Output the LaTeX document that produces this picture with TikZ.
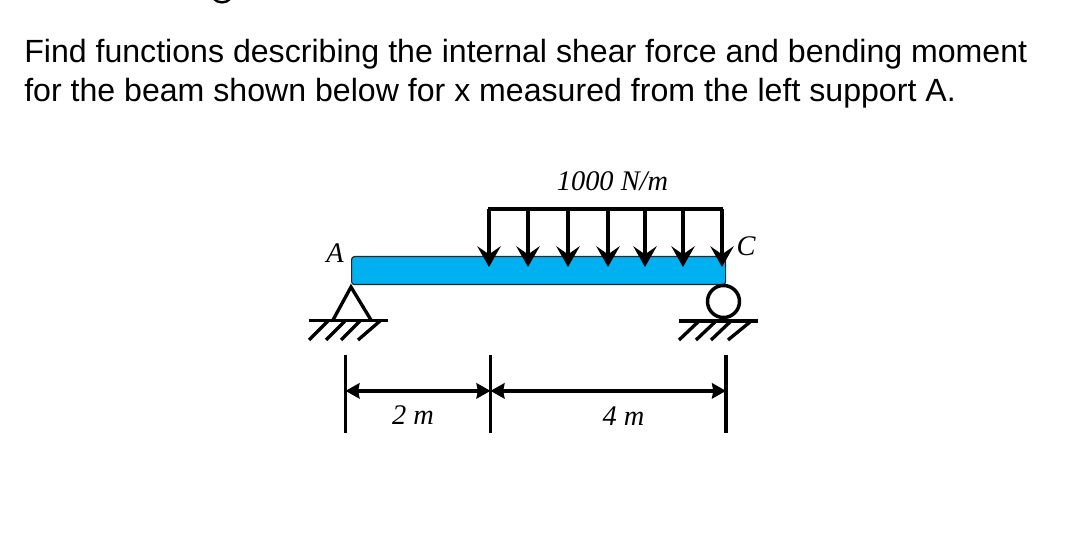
\documentclass[tikz,border=0pt]{standalone}
\usepackage{fontspec}
\setmainfont{Liberation Sans}
\newfontfamily\timesf{Liberation Serif}
\usetikzlibrary{arrows.meta,calc}
\definecolor{beamblue}{HTML}{00B0F0}
\tikzset{
  px/.style={x=0.75pt,y=-0.75pt},
  headline/.style={anchor=base west,inner sep=0pt,font=\fontsize{24.08}{28}\selectfont},
  lab/.style={inner sep=0pt,font=\timesf\itshape\fontsize{21.3}{24}\selectfont},
  beam/.style={draw=black!85,line width=0.9pt,fill=beamblue,rounded corners=2.2pt},
  heavy/.style={draw=black,line width=3pt},
  struct/.style={draw=black,line width=2.5pt},
  loadarrow/.style={draw=black,line width=2.5pt,-{Stealth[length=15.5pt,width=17.5pt,inset=6pt]}},
  dimarrow/.style={draw=black,line width=2.8pt,{Stealth[length=10.5pt,width=11.5pt,inset=1pt]}-{Stealth[length=10.5pt,width=11.5pt,inset=1pt]}}
}
\begin{document}
\begin{tikzpicture}[px]
\useasboundingbox (0,0) rectangle (1076,552);
% clipped descender of the line above
\draw[line width=1.8pt,line cap=round] (214,-1) .. controls (218,3.5) and (226,3.5) .. (230,-1);
\node[headline] (l1) at (24,62.5) {Find functions describing the internal shear force and bending moment};
\node[headline] (l2) at (24,102) {for the beam shown below for x measured from the left support A.};
% beam
\node[beam,minimum width=280.5pt,minimum height=21pt,inner sep=0pt,anchor=north west] (b) at (351,256) {};
% load
\coordinate (lL) at (489,209); \coordinate (lR) at (722,209);
\draw[heavy] ($(lL)+(-1,0)$) -- ($(lR)+(1,0)$);
\foreach \i/\x in {1/489,2/528,3/568,4/608,5/645,6/683,7/722}{
  \coordinate (t\i) at (\x,209); \coordinate (h\i) at (\x,267);
  \draw[loadarrow] (t\i) -- (h\i);
}
% pin support
\coordinate (pa) at (351,287); \coordinate (pb) at (333,320); \coordinate (pc) at (371,320);
\draw[struct,line join=miter] (pb) -- (pa) -- (pc);
\coordinate (g1a) at (309,320.5); \coordinate (g1b) at (388,320.5);
\draw[struct] (g1a) -- (g1b);
\foreach \a/\b/\c/\d in {309/340/328/321,326/340/345/321,341/340/360/321,358/340/380/321}{
  \draw[struct] (\a,\b) -- (\c,\d);
}
% roller support
\node[circle,draw=black,line width=2.6pt,fill=white,minimum size=24pt,inner sep=0pt] (r) at (723.5,301.5) {};
\coordinate (g2a) at (679,321); \coordinate (g2b) at (758,321);
\draw[struct] (g2a) -- (g2b);
\foreach \a/\b/\c/\d in {679/340/698/322,696/340/715/322,711/340/730/322,728/340/750/322}{
  \draw[struct] (\a,\b) -- (\c,\d);
}
% dimensions
\coordinate (d1t) at (345.5,355); \coordinate (d1b) at (345.5,433);
\coordinate (d2t) at (490.5,355); \coordinate (d2b) at (490.5,433);
\coordinate (d3t) at (726,355); \coordinate (d3b) at (726,433);
\draw[struct] (d1t) -- (d1b);
\draw[struct] (d2t) -- (d2b);
\draw[struct] (d3t) -- (d3b);
\path (d1t) -- (d1b) coordinate[pos=0.46] (m1);
\path (d2t) -- (d2b) coordinate[pos=0.46] (m2);
\path (d3t) -- (d3b) coordinate[pos=0.46] (m3);
\draw[dimarrow] (m1) -- (m2);
\draw[dimarrow] (m2) -- (m3);
% labels
\node[lab] (la) at (335,253) {A};
\node[lab] (lc) at (746,246) {C};
\node[lab] (lq) at (612.5,181) {1000 N/m};
\node[lab] (l2m) at (413,415) {2 m};
\node[lab] (l4m) at (623.5,416) {4 m};
\end{tikzpicture}
\end{document}
